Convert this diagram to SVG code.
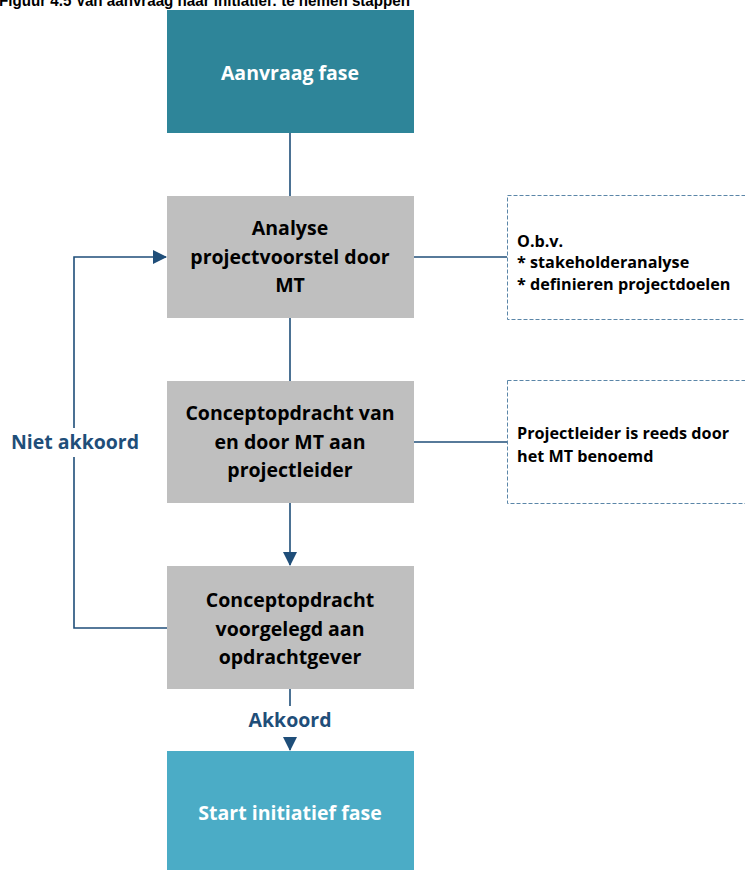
<svg xmlns="http://www.w3.org/2000/svg" width="745" height="870" viewBox="0 0 745 870">
<defs>
<style>
.title{font-family:"Liberation Sans",Arial,sans-serif;font-weight:bold;font-size:16px;fill:#000}
.lbl{font-family:"Open Sans","Noto Sans",sans-serif;font-weight:bold;font-size:19.5px;text-anchor:middle}
.w{fill:#fff}
.k{fill:#000}
.note{font-family:"Open Sans","Noto Sans",sans-serif;font-weight:bold;font-size:16.2px;fill:#000}
.blue{font-family:"Open Sans","Noto Sans",sans-serif;font-weight:bold;font-size:19.5px;fill:#1F4E79}
.gray{fill:#BFBFBF}
.conn{stroke:#1F4E79;stroke-width:1.6;fill:none}
.dash{fill:#fff;stroke:#5B86A8;stroke-width:1;stroke-dasharray:4 2}
</style>
<marker id="arrB" markerWidth="14" markerHeight="14" refX="13" refY="7" orient="auto" markerUnits="userSpaceOnUse" viewBox="0 0 14 14">
<path d="M0,0 L14,7 L0,14 z" fill="#1F4E79"/>
</marker>
</defs>
<rect width="745" height="870" fill="#fff"/>
<text class="title" x="-1" y="6" textLength="411" lengthAdjust="spacingAndGlyphs">Figuur 4.5  Van aanvraag naar initiatief: te nemen stappen</text>

<g id="connectors">
<line class="conn" x1="290" y1="133" x2="290" y2="196"/>
<line class="conn" x1="290" y1="318" x2="290" y2="381"/>
<line class="conn" x1="290" y1="503" x2="290" y2="565" marker-end="url(#arrB)"/>
<line class="conn" x1="290" y1="689" x2="290" y2="706"/>
<line class="conn" x1="290" y1="737" x2="290" y2="750" marker-end="url(#arrB)"/>
<polyline class="conn" points="167,628 74,628 74,457"/>
<polyline class="conn" points="74,428 74,257 166,257" marker-end="url(#arrB)"/>
<line class="conn" x1="414" y1="257" x2="507" y2="257"/>
<line class="conn" x1="414" y1="442" x2="507" y2="442"/>
<text class="blue" x="75" y="449" text-anchor="middle">Niet akkoord</text>
<text class="blue" x="290" y="727" text-anchor="middle">Akkoord</text>
</g>

<g id="aanvraag">
<rect x="167" y="10" width="247" height="123" fill="#2E8599"/>
<text class="lbl w" x="290" y="80">Aanvraag fase</text>
</g>

<g id="analyse">
<rect class="gray" x="167" y="196" width="247" height="122"/>
<text class="lbl k" x="290" y="235">Analyse</text>
<text class="lbl k" x="290" y="264">projectvoorstel door</text>
<text class="lbl k" x="290" y="292">MT</text>
</g>

<g id="concept">
<rect class="gray" x="167" y="381" width="247" height="122"/>
<text class="lbl k" x="290" y="420">Conceptopdracht van</text>
<text class="lbl k" x="290" y="449">en door MT aan</text>
<text class="lbl k" x="290" y="477">projectleider</text>
</g>

<g id="voorgelegd">
<rect class="gray" x="167" y="566" width="247" height="123"/>
<text class="lbl k" x="290" y="607">Conceptopdracht</text>
<text class="lbl k" x="290" y="636">voorgelegd aan</text>
<text class="lbl k" x="290" y="664">opdrachtgever</text>
</g>

<g id="start">
<rect x="167" y="751" width="247" height="119" fill="#4BACC6"/>
<text class="lbl w" x="290" y="820">Start initiatief fase</text>
</g>

<g id="note1">
<rect class="dash" x="507.5" y="195.5" width="245" height="124"/>
<text class="note" x="517" y="247">O.b.v.</text>
<text class="note" x="517" y="268">* stakeholderanalyse</text>
<text class="note" x="517" y="290">* definieren projectdoelen</text>
</g>

<g id="note2">
<rect class="dash" x="507.5" y="380.5" width="245" height="123"/>
<text class="note" x="517" y="439">Projectleider is reeds door</text>
<text class="note" x="517" y="462">het MT benoemd</text>
</g>
</svg>
